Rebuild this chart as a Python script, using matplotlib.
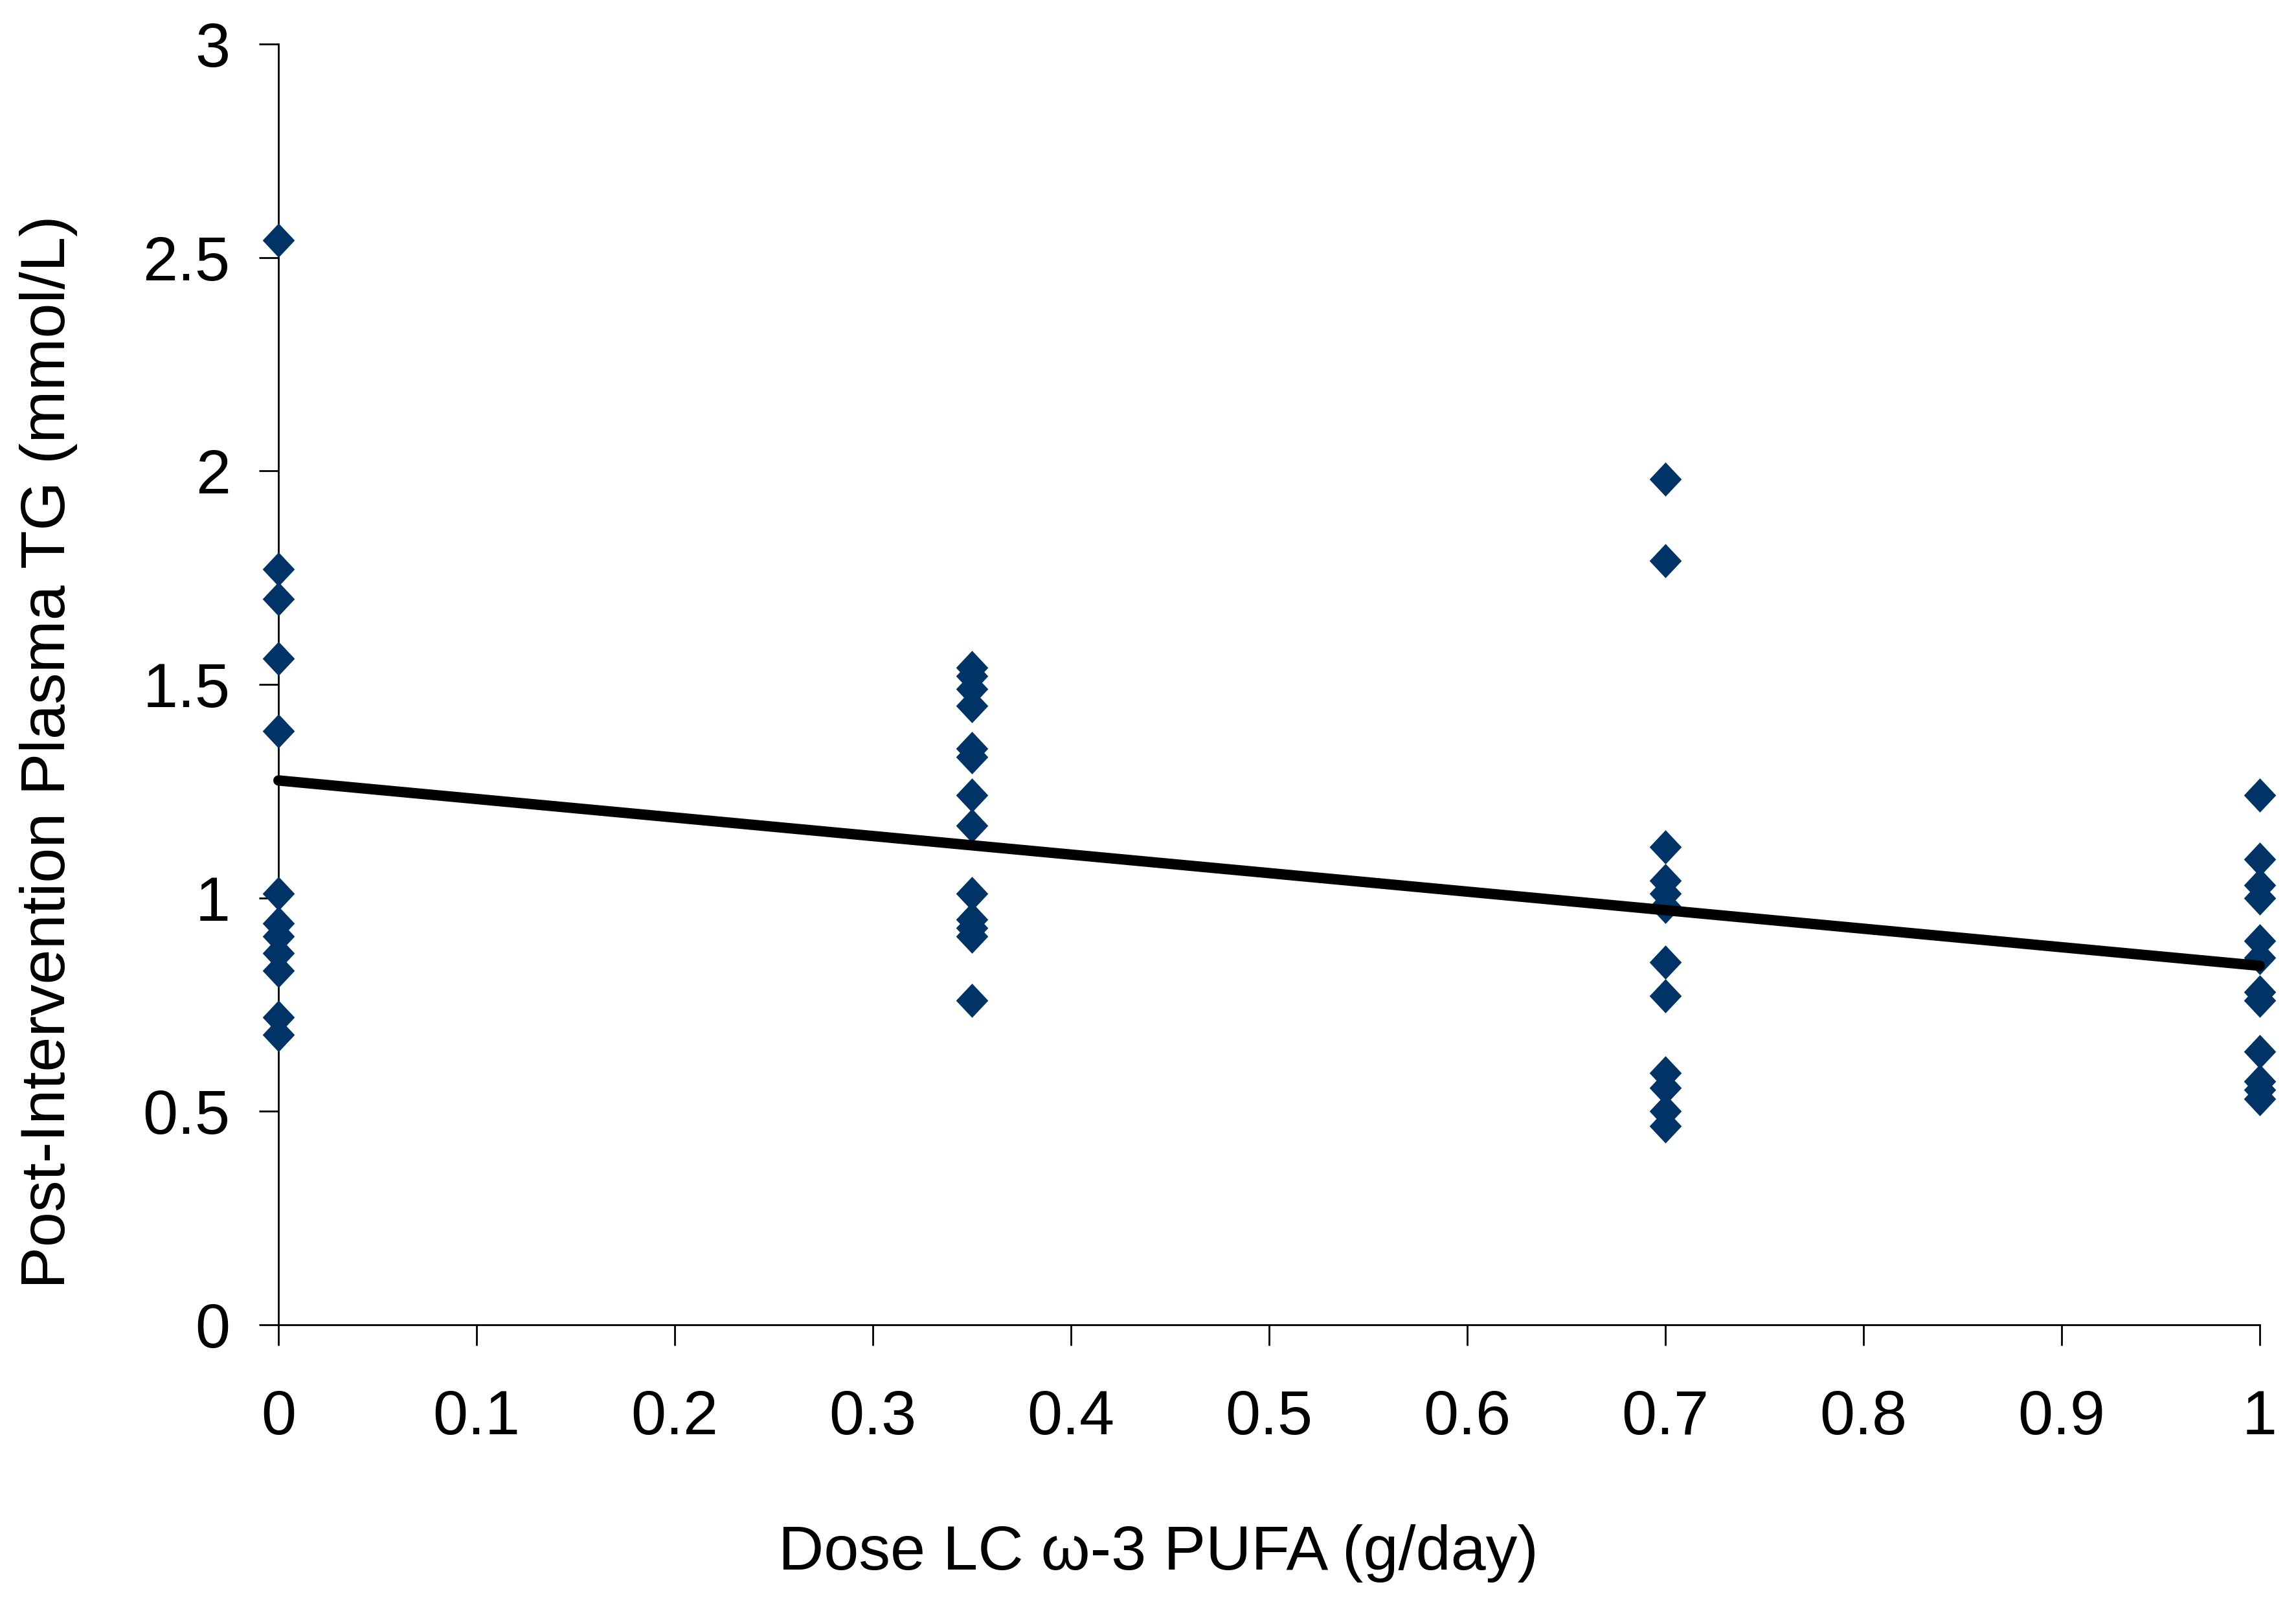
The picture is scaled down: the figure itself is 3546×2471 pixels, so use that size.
import numpy as np
import matplotlib
matplotlib.use('Agg')
import matplotlib.pyplot as plt
from matplotlib.ticker import FormatStrFormatter

# 용량별 혈장 TG 값
dose_0 = [2.54, 1.77, 1.70, 1.56, 1.39, 1.01, 0.94, 0.91, 0.87, 0.83, 0.72, 0.68]
dose_035 = [1.54, 1.52, 1.49, 1.45, 1.35, 1.33, 1.24, 1.17, 1.01, 0.95, 0.93, 0.91, 0.76]
dose_07 = [1.98, 1.79, 1.12, 1.04, 1.01, 0.98, 0.85, 0.77, 0.59, 0.555, 0.50, 0.465]
dose_1 = [1.24, 1.09, 1.03, 1.00, 0.90, 0.86, 0.78, 0.76, 0.64, 0.57, 0.55, 0.53]
doses = [0.0, 0.35, 0.7, 1.0]

# 추세선 (그림에서 읽은 값: x=0 에서 1.275, x=1 에서 0.841)
trend_x = [0.0, 1.0]
trend_y = [1.275, 0.841]

x_ticks = [0, 0.1, 0.2, 0.3, 0.4, 0.5, 0.6, 0.7, 0.8, 0.9, 1]
y_ticks = [0, 0.5, 1, 1.5, 2, 2.5, 3]

groups = [dose_0, dose_035, dose_07, dose_1]
x_all = np.concatenate([[d] * len(g) for d, g in zip(doses, groups)])
y_all = np.concatenate(groups)

plt.rcParams['font.family'] = ['Liberation Sans', 'DejaVu Sans']

fig = plt.figure(figsize=(17.73, 12.355), dpi=200)
ax = fig.add_axes([0.1213, 0.172, 0.8629, 0.8005])

# 살짝 세로로 긴 마름모 마커
diamond = [(0, 1), (0.94, 0), (0, -1), (-0.94, 0), (0, 1)]
ax.plot(x_all, y_all, linestyle='none', marker=diamond, markersize=19,
        color='#003366', markeredgewidth=0, clip_on=False, zorder=3)

ax.plot(trend_x, trend_y, color='black', linewidth=5.8,
        solid_capstyle='round', clip_on=False, zorder=4)

ax.set_xlim(0, 1)
ax.set_ylim(0, 3)
ax.set_xticks(x_ticks)
ax.set_yticks(y_ticks)
ax.xaxis.set_major_formatter(FormatStrFormatter('%g'))
ax.yaxis.set_major_formatter(FormatStrFormatter('%g'))

for side in ['top', 'right']:
    ax.spines[side].set_visible(False)
for side in ['left', 'bottom']:
    ax.spines[side].set_linewidth(1.0)
    ax.spines[side].set_color('black')

ax.tick_params(axis='x', direction='out', length=11.5, width=1.0, pad=24, labelsize=35)
ax.tick_params(axis='y', direction='out', length=10.8, width=1.0, pad=16, labelsize=35)

fig.text(0.5045, 0.019, 'Dose LC ω-3 PUFA (g/day)', fontsize=35,
         ha='center', va='baseline')
fig.text(0.0212, 0.530, 'Post-Intervention Plasma TG (mmol/L)', fontsize=35,
         rotation=90, ha='center', va='center')

fig.savefig('out.png', dpi=200)
plt.close(fig)
